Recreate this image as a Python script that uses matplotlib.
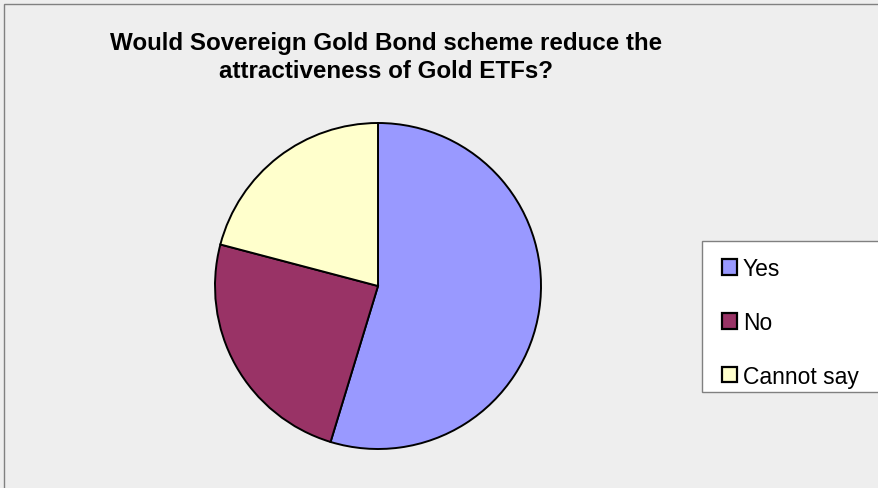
import matplotlib
matplotlib.use('Agg')
import matplotlib.pyplot as plt
from matplotlib.patches import Rectangle

# Data
labels = ['Yes', 'No', 'Cannot say']
values = [54.7, 24.4, 20.9]
colors = ['#9999FF', '#993366', '#FFFFCC']
title_lines = ['Would Sovereign Gold Bond scheme reduce the',
               'attractiveness of Gold ETFs?']

W, H = 879, 489
fig = plt.figure(figsize=(W / 100, H / 100), dpi=100)
fig.patch.set_facecolor('#EEEEEE')
plt.rcParams['font.family'] = ['Liberation Sans', 'DejaVu Sans']

# Outer chart frame (runs off the right and bottom edges)
fig.patches.append(Rectangle((4.5 / W, -0.1), 1.2, 1.1 - 4.5 / H,
                             transform=fig.transFigure, facecolor='none',
                             edgecolor='#808080', linewidth=1.0))

# Pie axes: centre (378, 287), radius ~163 px
cx, cy, r = 378, 287, 163
m = 1.05
ax = fig.add_axes([(cx - r * m) / W, (H - cy - r * m) / H, 2 * r * m / W, 2 * r * m / H])
wedges, _ = ax.pie(values, colors=colors, startangle=90, counterclock=False,
                   wedgeprops=dict(edgecolor='black', linewidth=1.4))
ax.set_xlim(-m, m)
ax.set_ylim(-m, m)
ax.set_aspect('equal')

# Title (two centred lines)
baselines = [50, 78]
for line, yb in zip(title_lines, baselines):
    fig.text(386.5 / W, 1 - yb / H, line, ha='center', va='baseline',
             fontsize=17.4, fontweight='bold')

# Legend box (runs off the right edge), drawn separately for exact padding
fig.patches.append(Rectangle((702.5 / W, 1 - 392.5 / H), 0.3, 151 / H,
                             transform=fig.transFigure, facecolor='white',
                             edgecolor='#808080', linewidth=1.0, zorder=1))

leg = fig.legend(wedges, labels, loc='upper left',
                 bbox_to_anchor=(722 / W, 1 - 258 / H),
                 fontsize=16.5, frameon=False,
                 handlelength=0.65, handleheight=0.65, handletextpad=0.26,
                 labelspacing=1.35, borderpad=0, borderaxespad=0)
leg.set_zorder(2)
for h in leg.legend_handles:
    h.set_linewidth(1.6)

fig.savefig('out.png', dpi=100, facecolor=fig.get_facecolor())
